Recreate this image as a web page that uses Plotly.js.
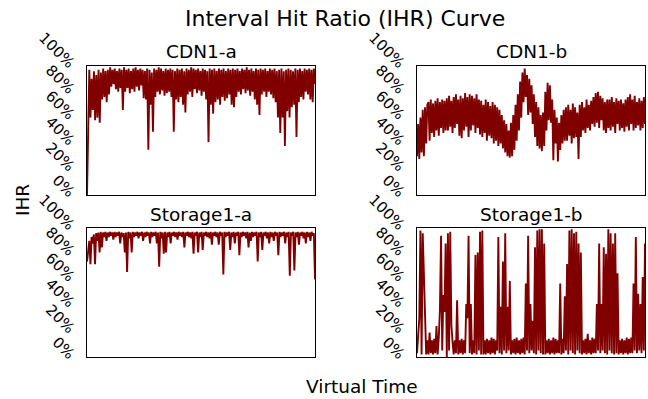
<!DOCTYPE html>
<html>
<head>
<meta charset="utf-8">
<script src="https://cdn.plot.ly/plotly-3.0.1.min.js"></script>
<style>html,body{margin:0;padding:0;background:#fff}#chart{width:648px;height:399px}</style>
</head>
<body>
<div id="chart"></div>
<script>
// Panel titles
const panelTitles = ["CDN1-a", "CDN1-b", "Storage1-a", "Storage1-b"];
// Y tick values and labels
const yTickVals = [0, 0.2, 0.4, 0.6, 0.8, 1.0];
const yTickText = ["0%", "20%", "40%", "60%", "80%", "100%"];

const cdn1a = [0, 0.62, 0.97,0.6, 0.9,0.66, 0.96,0.58, 0.93,0.6, 0.97,0.56, 0.95,0.74, 0.98,0.76, 0.96,0.72, 0.97,0.78, 0.99,0.84, 0.97,0.86, 0.98,0.82, 0.96,0.8, 0.98,0.83, 0.97,0.66, 0.99,0.8, 0.97,0.83, 0.98,0.79, 0.96,0.82, 0.98,0.8, 0.99,0.84, 0.97,0.81, 0.98,0.85, 0.97,0.75, 0.96,0.74, 0.98,0.35, 0.97,0.7, 0.95,0.49, 0.98,0.76, 0.97,0.8, 0.99,0.78, 0.98,0.81, 0.96,0.77, 0.98,0.79, 0.97,0.8, 0.98,0.76, 0.97,0.49, 0.96,0.74, 0.98,0.72, 0.97,0.76, 0.98,0.7, 0.96,0.64, 0.98,0.78, 0.97,0.8, 0.99,0.76, 0.98,0.82, 0.97,0.79, 0.98,0.81, 0.96,0.77, 0.98,0.8, 0.97,0.74, 0.96,0.41, 0.98,0.7, 0.97,0.63, 0.98,0.72, 0.96,0.74, 0.98,0.7, 0.97,0.76, 0.98,0.73, 0.96,0.75, 0.98,0.78, 0.97,0.7, 0.98,0.68, 0.97,0.76, 0.98,0.8, 0.96,0.78, 0.98,0.82, 0.97,0.79, 0.99,0.81, 0.97,0.77, 0.98,0.8, 0.96,0.74, 0.98,0.7, 0.97,0.62, 0.98,0.78, 0.97,0.8, 0.98,0.76, 0.96,0.8, 0.98,0.78, 0.97,0.75, 0.98,0.72, 0.96,0.6, 0.97,0.48, 0.98,0.6, 0.96,0.38, 0.97,0.65, 0.98,0.6, 0.97,0.68, 0.96,0.7, 0.98,0.45, 0.97,0.72, 0.98,0.76, 0.96,0.74, 0.98,0.8, 0.97,0.78, 0.98,0.74, 0.97,0.72, 0.98,0.86];

const cdn1b = [0.3,0.55, 0.28,0.6, 0.33,0.66, 0.3,0.68, 0.4,0.7, 0.72,0.42, 0.74,0.48, 0.71,0.45, 0.73,0.5, 0.75,0.46, 0.72,0.52, 0.74,0.48, 0.73,0.5, 0.75,0.5, 0.77,0.53, 0.73,0.48, 0.76,0.52, 0.78,0.55, 0.74,0.46, 0.77,0.44, 0.75,0.5, 0.79,0.53, 0.76,0.45, 0.78,0.5, 0.77,0.54, 0.75,0.48, 0.78,0.52, 0.74,0.47, 0.73,0.45, 0.7,0.48, 0.74,0.42, 0.72,0.46, 0.69,0.44, 0.72,0.4, 0.7,0.42, 0.68,0.38, 0.66,0.4, 0.62,0.36, 0.58,0.33, 0.55,0.3, 0.5,0.29, 0.56,0.3, 0.62,0.35, 0.7,0.42, 0.78,0.5, 0.88,0.6, 0.95,0.72, 0.98,0.76, 0.93,0.62, 0.9,0.64, 0.85,0.55, 0.78,0.45, 0.72,0.38, 0.68,0.36, 0.62,0.34, 0.64,0.38, 0.8,0.5, 0.87,0.58, 0.85,0.56, 0.74,0.27, 0.66,0.4, 0.6,0.26, 0.56,0.35, 0.62,0.4, 0.66,0.42, 0.68,0.42, 0.7,0.46, 0.66,0.4, 0.71,0.44, 0.68,0.45, 0.64,0.28, 0.7,0.45, 0.72,0.5, 0.68,0.48, 0.74,0.52, 0.7,0.5, 0.73,0.55, 0.76,0.53, 0.79,0.56, 0.8,0.52, 0.77,0.58, 0.75,0.5, 0.72,0.48, 0.74,0.52, 0.74,0.5, 0.76,0.53, 0.72,0.48, 0.75,0.55, 0.73,0.5, 0.74,0.52, 0.71,0.49, 0.74,0.53, 0.76,0.5, 0.78,0.55, 0.74,0.5, 0.77,0.52, 0.72,0.54, 0.75,0.5, 0.73,0.52, 0.76,0.55];

const storage1a = [0.74,0.85, 0.9,0.72, 0.93,0.88, 0.95,0.72, 0.96,0.9, 0.965,0.81, 0.97,0.85, 0.965,0.93, 0.97,0.9, 0.965,0.93, 0.97,0.94, 0.965,0.91, 0.97,0.93, 0.965,0.94, 0.97,0.88, 0.965,0.93, 0.96,0.81, 0.965,0.66, 0.97,0.92, 0.965,0.81, 0.97,0.93, 0.965,0.94, 0.97,0.92, 0.965,0.94, 0.97,0.9, 0.965,0.93, 0.97,0.94, 0.965,0.88, 0.97,0.93, 0.965,0.94, 0.97,0.88, 0.965,0.7, 0.97,0.92, 0.965,0.8, 0.97,0.81, 0.965,0.93, 0.97,0.88, 0.965,0.94, 0.97,0.93, 0.965,0.91, 0.97,0.94, 0.965,0.93, 0.97,0.85, 0.965,0.94, 0.97,0.93, 0.965,0.92, 0.97,0.8, 0.965,0.94, 0.97,0.81, 0.965,0.93, 0.97,0.83, 0.965,0.94, 0.97,0.93, 0.965,0.92, 0.97,0.87, 0.965,0.94, 0.97,0.93, 0.965,0.87, 0.97,0.94, 0.965,0.64, 0.97,0.93, 0.965,0.94, 0.97,0.83, 0.965,0.93, 0.97,0.88, 0.965,0.94, 0.97,0.79, 0.965,0.93, 0.97,0.94, 0.965,0.92, 0.97,0.85, 0.965,0.9, 0.97,0.93, 0.965,0.94, 0.97,0.74, 0.965,0.93, 0.97,0.83, 0.965,0.94, 0.97,0.92, 0.965,0.88, 0.97,0.93, 0.965,0.9, 0.97,0.94, 0.965,0.79, 0.97,0.93, 0.965,0.94, 0.97,0.88, 0.965,0.93, 0.97,0.63, 0.965,0.94, 0.97,0.67, 0.965,0.93, 0.97,0.87, 0.965,0.94, 0.97,0.92, 0.965,0.88, 0.97,0.93, 0.965,0.9, 0.97,0.94, 0.96,0.6];

const storage1b = [0.03,0.17, 0.3,0.98, 0.02,0.96, 0.7,0.44, 0.02,0.13, 0.02,0.19, 0.03,0.13, 0.02,0.14, 0.03,0.24, 0.02,0.15, 0.36,0.94, 0.05,0.48, 0.35,0.88, 0.0,0.96, 0.05,0.97, 0.25,0.12, 0.02,0.13, 0.03,0.44, 0.02,0.13, 0.03,0.14, 0.02,0.13, 0.03,0.41, 0.3,0.94, 0.03,0.41, 0.02,0.13, 0.03,0.79, 0.02,0.81, 0.05,0.97, 0.02,0.98, 0.02,0.13, 0.02,0.14, 0.03,0.13, 0.02,0.15, 0.03,0.14, 0.02,0.13, 0.05,0.93, 0.03,0.39, 0.02,0.74, 0.05,0.96, 0.03,0.39, 0.05,0.59, 0.02,0.13, 0.03,0.14, 0.02,0.15, 0.03,0.13, 0.02,0.14, 0.03,0.15, 0.02,0.57, 0.05,0.94, 0.03,0.41, 0.05,0.28, 0.03,0.85, 0.02,0.98, 0.05,0.99, 0.03,0.99, 0.02,0.88, 0.02,0.13, 0.03,0.14, 0.02,0.13, 0.03,0.15, 0.02,0.14, 0.03,0.13, 0.03,0.57, 0.02,0.14, 0.03,0.47, 0.05,0.72, 0.02,0.98, 0.05,0.99, 0.03,0.96, 0.02,0.97, 0.05,0.88, 0.03,0.81, 0.02,0.13, 0.03,0.14, 0.02,0.18, 0.03,0.13, 0.02,0.15, 0.03,0.14, 0.03,0.41, 0.05,0.88, 0.03,0.41, 0.05,0.85, 0.03,0.8, 0.02,0.99, 0.05,0.96, 0.03,0.88, 0.02,0.96, 0.03,0.65, 0.02,0.13, 0.03,0.14, 0.02,0.13, 0.03,0.15, 0.02,0.14, 0.03,0.15, 0.03,0.57, 0.05,0.93, 0.03,0.49, 0.05,0.41, 0.03,0.62, 0.05,0.88];

const seriesList = [cdn1a, cdn1b, storage1a, storage1b];
const lineColor = "#800000";
const FONT = "DejaVu Sans, sans-serif";

const W = 648, H = 399;
const xDomains = [[87/W, 315/W], [417/W, 645/W], [87/W, 315/W], [417/W, 645/W]];
const yDomains = [[1-195/H, 1-66/H], [1-195/H, 1-66/H], [1-357/H, 1-228/H], [1-357/H, 1-228/H]];

const traces = [];
const layout = {
  width: W, height: H,
  margin: {l: 0, r: 0, t: 0, b: 0},
  paper_bgcolor: "#fff", plot_bgcolor: "#fff",
  showlegend: false,
  font: {family: FONT, color: "#000"},
  annotations: [
    {text: "Interval Hit Ratio (IHR) Curve", xref: "paper", yref: "paper", x: 345/W, y: 1-18/H, xanchor: "center", yanchor: "middle", showarrow: false, font: {size: 22, family: FONT, color: "#000"}},
    {text: "IHR", xref: "paper", yref: "paper", x: 22/W, y: 1-200/H, xanchor: "center", yanchor: "middle", textangle: -90, showarrow: false, font: {size: 18.5, family: FONT, color: "#000"}},
    {text: "Virtual Time", xref: "paper", yref: "paper", x: 362/W, y: 1-386/H, xanchor: "center", yanchor: "middle", showarrow: false, font: {size: 18.5, family: FONT, color: "#000"}}
  ]
};

seriesList.forEach((ys, i) => {
  const n = i + 1;
  const xs = ys.map((_, k) => k);
  traces.push({
    type: "scatter", mode: "lines", x: xs, y: ys,
    xaxis: "x" + (n === 1 ? "" : n), yaxis: "y" + (n === 1 ? "" : n),
    line: {color: lineColor, width: 1.9}, hoverinfo: "skip"
  });
  const xa = {
    domain: xDomains[i], range: [0, ys.length - 1], anchor: "y" + (n === 1 ? "" : n),
    showticklabels: false, ticks: "", showgrid: false, zeroline: false,
    showline: true, mirror: true, linecolor: "#000", linewidth: 1.3
  };
  const ya = {
    domain: yDomains[i], range: [0, 1], anchor: "x" + (n === 1 ? "" : n),
    tickvals: yTickVals, ticktext: yTickText, tickangle: 45,
    tickfont: {size: 15, family: FONT, color: "#000"},
    ticklabelstandoff: 9,
    ticks: "", showgrid: false, zeroline: false,
    showline: true, mirror: true, linecolor: "#000", linewidth: 1.3
  };
  layout["xaxis" + (n === 1 ? "" : n)] = xa;
  layout["yaxis" + (n === 1 ? "" : n)] = ya;
  const cx = (xDomains[i][0] + xDomains[i][1]) / 2;
  const ty = i < 2 ? 1 - 51/H : 1 - 214/H;
  layout.annotations.push({text: panelTitles[i], xref: "paper", yref: "paper", x: cx, y: ty, xanchor: "center", yanchor: "middle", showarrow: false, font: {size: 18.5, family: FONT, color: "#000"}});
});

Plotly.newPlot("chart", traces, layout, {staticPlot: true, displayModeBar: false});
</script>
</body>
</html>
